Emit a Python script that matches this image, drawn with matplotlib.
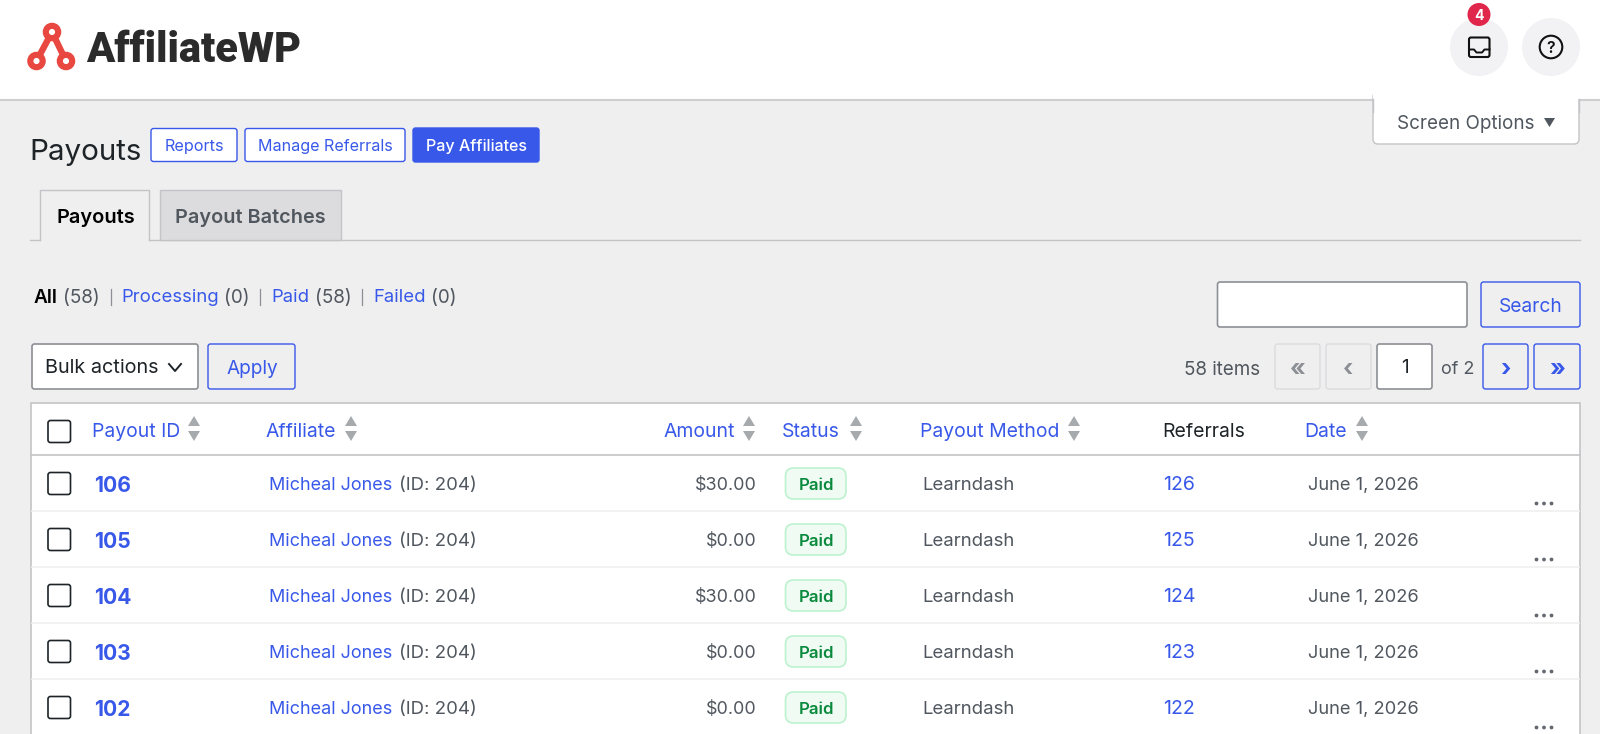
import matplotlib
matplotlib.use("Agg")
import matplotlib.pyplot as plt
from matplotlib.patches import FancyBboxPatch, Circle, Rectangle, Polygon

plt.rcParams['font.family'] = ['Inter', 'DejaVu Sans']

# Table contents
payout_ids = ['106', '105', '104', '103', '102']
affiliates = ['Micheal Jones'] * 5
affiliate_ids = ['(ID: 204)'] * 5
amounts = ['$30.00', '$0.00', '$30.00', '$0.00', '$0.00']
statuses = ['Paid'] * 5
methods = ['Learndash'] * 5
referrals = ['126', '125', '124', '123', '122']
dates = ['June 1, 2026'] * 5

sortable_headers = ['Payout ID', 'Affiliate', 'Amount', 'Status', 'Payout Method', 'Date']
filter_names = ['All', 'Processing', 'Paid', 'Failed']
filter_counts = ['(58)', '(0)', '(58)', '(0)']

# Colors
PAGE = '#efeff0'
BLUE = '#3858e9'
TEXT = '#50575e'
DARK = '#1d2327'
BORDER = '#c3c4c7'
PX = 0.72  # px to pt at dpi 100

fig = plt.figure(figsize=(16, 7.34), dpi=100, facecolor=PAGE)
ax = fig.add_axes([0, 0, 1, 1])
ax.set_xlim(0, 1600)
ax.set_ylim(734, 0)
ax.axis('off')


def box(x0, y0, x1, y1, fc='white', ec=BORDER, lw=1.0, r=2.5, z=2):
    ax.add_patch(FancyBboxPatch((x0, y0), x1 - x0, y1 - y0, boxstyle=f'round,pad=0,rounding_size={r}',
                                fc=fc, ec=ec, lw=lw, zorder=z))


def label(x, y, s, size=18, color=TEXT, weight='normal', ha='left', z=5):
    return ax.text(x, y, s, fontsize=size * PX, color=color, fontweight=weight, ha=ha,
                   va='center_baseline', zorder=z)


def sort_arrows(x, y):
    ax.add_patch(Polygon([(x - 6, y - 3), (x + 6, y - 3), (x, y - 13)], fc='#a7aaad', ec='none', zorder=4))
    ax.add_patch(Polygon([(x - 6, y + 2), (x + 6, y + 2), (x, y + 12)], fc='#a7aaad', ec='none', zorder=4))


# Top bar
ax.add_patch(Rectangle((0, 0), 1600, 99.5, fc='white', ec='none', zorder=1))
ax.plot([0, 1600], [99.5, 99.5], color='#cfcfd1', lw=1.5, zorder=2)

# Logo
LOGO = '#e8483f'
ax.plot([36.5, 52, 66], [61, 32, 61], color=LOGO, lw=4.6, zorder=3, solid_capstyle='round')
for cx, cy in [(52, 32), (36.5, 61), (66, 61)]:
    ax.add_patch(Circle((cx, cy), 6.2, fc='white', ec=LOGO, lw=4.4, zorder=4))
ax.text(86, 62, 'AffiliateWP', fontsize=41.6 * PX, color='#2b2b2b', fontweight='black', family='Roboto',
        ha='left', va='baseline', zorder=5)

# Top right icons
ax.add_patch(Circle((1479, 47), 29, fc='#f2f2f4', ec='none', zorder=3))
ax.add_patch(Circle((1551, 47), 29, fc='#f2f2f4', ec='none', zorder=3))
box(1469, 37.5, 1489.5, 57, fc='none', ec='#111111', lw=1.5, r=2, z=4)
ax.plot([1469, 1474, 1476.5, 1482, 1484.5, 1489.5], [49.5, 49.5, 52.5, 52.5, 49.5, 49.5], color='#111111', lw=1.4, zorder=4)
ax.add_patch(Circle((1479, 14.5), 11.5, fc='#e0264a', ec='none', zorder=5))
label(1479, 14.5, '4', size=14, color='white', weight='bold', ha='center', z=6)
ax.add_patch(Circle((1551, 47), 11.3, fc='none', ec='#111111', lw=1.5, zorder=4))
label(1551, 47, '?', size=16, color='#111111', weight='semibold', ha='center')

# Screen options tab
box(1373, 92, 1579, 144, fc='white', ec=BORDER, lw=1.0, r=5, z=3)
ax.add_patch(Rectangle((1372.5, 90), 207, 9, fc='white', ec='none', zorder=3.1))
ax.plot([1373, 1373], [99, 112], color=BORDER, lw=1.0, zorder=3.2)
ax.plot([1579, 1579], [99, 112], color=BORDER, lw=1.0, zorder=3.2)
label(1397, 122, 'Screen Options', size=18.8, color=TEXT)
ax.add_patch(Polygon([(1544, 118), (1555, 118), (1549.5, 127)], fc=TEXT, ec='none', zorder=5))

# Title and action buttons
label(29.5, 149, 'Payouts', size=29.6, color=DARK)
box(151, 128.5, 237, 161.5, fc='white', ec=BLUE, lw=1.0)
label(194, 145, 'Reports', size=16.2, color=BLUE, ha='center')
box(245, 128.5, 405, 161.5, fc='white', ec=BLUE, lw=1.0)
label(325, 145, 'Manage Referrals', size=16.1, color=BLUE, ha='center')
box(413, 128, 539, 162, fc=BLUE, ec=BLUE, lw=1.0)
label(476, 145, 'Pay Affiliates', size=16.1, color='white', weight='medium', ha='center')

# Tabs
ax.plot([30, 40], [240, 240], color=BORDER, lw=1.0, zorder=2)
ax.plot([149, 1580], [240, 240], color=BORDER, lw=1.0, zorder=2)
ax.plot([40, 40, 149, 149], [240, 190, 190, 240], color=BORDER, lw=1.0, zorder=2)
ax.add_patch(Rectangle((160, 190), 181, 50, fc='#dcdcde', ec=BORDER, lw=1.0, zorder=2))
label(56, 216, 'Payouts', size=20, color='black', weight='semibold')
label(175, 216, 'Payout Batches', size=19.9, color=TEXT, weight='semibold')

# Status filters
filter_x = [34, 121, 271, 373]
count_x = [63, 224, 315, 431]
sep_x = [111, 260, 362]
for i, name in enumerate(filter_names):
    label(filter_x[i], 296, name, size=19 if i == 0 else 18.5, color='black' if i == 0 else BLUE,
          weight='semibold' if i == 0 else 'normal')
    label(count_x[i], 296, filter_counts[i], size=18.8, color=TEXT)
for x in sep_x:
    ax.plot([x, x], [289, 305], color='#8c8f94', lw=0.9, zorder=4)

# Search
box(1217.5, 282, 1467, 327, fc='white', ec='#8c8f94', lw=1.2)
box(1481, 282, 1580, 327, fc=PAGE, ec=BLUE, lw=1.0)
label(1530.5, 305, 'Search', size=19.2, color=BLUE, ha='center')

# Bulk actions
box(32, 344, 198, 389, fc='white', ec='#8c8f94', lw=1.2)
label(45, 366, 'Bulk actions', size=19.8, color=DARK)
ax.plot([169, 175, 181], [364, 371, 364], color=DARK, lw=1.4, zorder=5)
box(208, 344, 295, 389, fc=PAGE, ec=BLUE, lw=1.0)
label(252.5, 367, 'Apply', size=19, color=BLUE, ha='center')

# Pagination
label(1184, 368, '58 items', size=18.8, color=TEXT)
box(1275, 344, 1320, 389, fc=PAGE, ec='#dcdcde', lw=1.0)
label(1297.5, 367, '«', size=24, color='#8c8f94', weight='bold', ha='center')
box(1326, 344, 1371, 389, fc=PAGE, ec='#dcdcde', lw=1.0)
label(1348.5, 367, '‹', size=24, color='#8c8f94', weight='bold', ha='center')
box(1377, 344, 1432, 389, fc='white', ec='#8c8f94', lw=1.2)
label(1404.5, 366, '1', size=19, color=DARK, ha='center')
label(1441, 368, 'of 2', color=TEXT)
box(1483, 344, 1528, 389, fc=PAGE, ec=BLUE, lw=1.0)
label(1505.5, 367, '›', size=24, color=BLUE, weight='bold', ha='center')
box(1534, 344, 1580, 389, fc=PAGE, ec=BLUE, lw=1.0)
label(1557, 367, '»', size=24, color=BLUE, weight='bold', ha='center')

# Table
ax.add_patch(Rectangle((31, 403), 1549, 340, fc='white', ec=BORDER, lw=1.2, zorder=2))
ax.plot([31, 1580], [455, 455], color=BORDER, lw=1.2, zorder=3)


def checkbox(cy):
    box(48, cy - 11, 70.5, cy + 11, fc='white', ec=DARK, lw=1.2, r=2.5, z=4)


checkbox(431.5)
header_x = [92, 266, 663, 782, 920, 1304]
arrow_x = [194, 351, 749, 856, 1074, 1362]
for name, x, arrow in zip(sortable_headers, header_x, arrow_x):
    label(x, 430, name, size=19.4, color=BLUE)
    sort_arrows(arrow, 429)
label(1162, 430, 'Referrals', size=19.4, color=DARK)

ROW_TOP = 455
ROW_H = 56
for i in range(len(payout_ids)):
    cy = ROW_TOP + ROW_H * i + 28.5
    line_y = ROW_TOP + ROW_H * (i + 1)
    ax.plot([32, 1579], [line_y, line_y], color='#f0f0f1', lw=1.2, zorder=3)
    checkbox(cy)
    label(94.5, cy, payout_ids[i], size=21, color=BLUE, weight='bold')
    label(269, cy, affiliates[i], color=BLUE)
    label(399, cy, affiliate_ids[i], size=18.6, color=TEXT)
    label(757, cy, amounts[i], size=17.9, color=TEXT, ha='right')
    box(785.5, cy - 15.5, 846, cy + 15.5, fc='#effbf3', ec='#bdf2cf', lw=1.2, r=8, z=4)
    label(816, cy, statuses[i], size=16.8, color='#0a8a3c', weight='semibold', ha='center')
    label(922, cy, methods[i], size=18.6, color=TEXT)
    label(1163, cy, referrals[i], size=19.5, color=BLUE)
    label(1308, cy, dates[i], size=18.3, color=TEXT)
    for dx in (-7.5, 0, 7.5):
        ax.add_patch(Circle((1544 + dx, cy + 20), 1.9, fc='#646970', ec='none', zorder=4))

plt.savefig('out.png', dpi=100, facecolor=PAGE)
